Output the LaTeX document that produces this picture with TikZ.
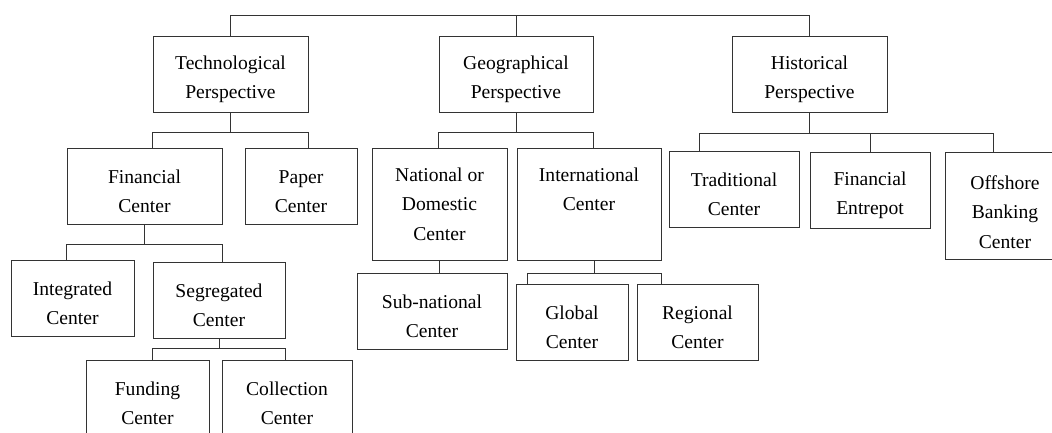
\documentclass[tikz,border=0pt]{standalone}
\usepackage{fontspec}
\setmainfont{Liberation Serif}
\usepackage{tikz}
\tikzset{
	chartbox/.style={draw=black!80, line width=0.9pt, inner sep=0pt, align=center, font=\fontsize{19.6}{29.5}\selectfont,
		execute at begin node={\rule{0pt}{54pt}}},
	link/.style={draw=black!80, line width=0.9pt}
}

\begin{document}
\begin{tikzpicture}[x=1pt, y=-1pt]
				\useasboundingbox (0,0) rectangle (1052,432);
				
				\node[chartbox, minimum width=155, minimum height=76] (tech) at (230.5,74) {Technological\\Perspective};
				\node[chartbox, minimum width=154, minimum height=76] (geo) at (516,74) {Geographical\\Perspective};
				\node[chartbox, minimum width=155, minimum height=76] (hist) at (809.5,74) {Historical\\Perspective};
				
				\node[chartbox, minimum width=155, minimum height=76] (fin) at (144.5,186) {Financial\\Center};
				\node[chartbox, minimum width=112, minimum height=76] (paper) at (301,186) {Paper\\Center};
				\node[chartbox, minimum width=123, minimum height=76] (integ) at (72.5,298) {Integrated\\Center};
				\node[chartbox, minimum width=132, minimum height=76] (segr) at (219,300) {Segregated\\Center};
				\node[chartbox, minimum width=123, minimum height=76] (fund) at (147.5,398) {Funding\\Center};
				\node[chartbox, minimum width=130, minimum height=76] (coll) at (287,398) {Collection\\Center};
				
				\node[chartbox, minimum width=135, minimum height=112] (natl) at (439.5,204) {National or\\Domestic\\Center};
				\node[chartbox, minimum width=144, minimum height=112] (intl) at (589,204) {International\\Center\\~};
				\node[chartbox, minimum width=150, minimum height=76] (sub) at (432,311) {Sub-national\\Center};
				\node[chartbox, minimum width=112, minimum height=76] (global) at (572,322) {Global\\Center};
				\node[chartbox, minimum width=121, minimum height=76] (region) at (697.5,322) {Regional\\Center};
				
				\node[chartbox, minimum width=130, minimum height=76] (trad) at (734,189) {Traditional\\Center};
				\node[chartbox, minimum width=120, minimum height=76] (entre) at (870,190) {Financial\\Entrepot};
				\node[chartbox, execute at begin node={\rule{0pt}{86pt}}, minimum width=120, minimum height=107] (off) at (1005,205.5) {Offshore\\Banking\\Center};
				
				\coordinate (topbus) at (0,15);
				\draw[link] (tech.north) -- (tech.north |- topbus) -- (hist.north |- topbus) -- (hist.north);
				\draw[link] (geo.north) -- (geo.north |- topbus);
				
				\coordinate (techbus) at (0,132);
				\draw[link] (tech.south) -- (tech.south |- techbus);
				\draw[link] (tech.west |- fin.north) -- (tech.west |- techbus) -- (tech.east |- techbus) -- (tech.east |- paper.north);
				
				\coordinate (finbus) at (0,244);
				\draw[link] (fin.south) -- (fin.south |- finbus);
				\draw[link] (fin.west |- integ.north) -- (fin.west |- finbus) -- (fin.east |- finbus) -- (fin.east |- segr.north);
				
				\coordinate (segrbus) at (0,348);
				\draw[link] (segr.south) -- (segr.south |- segrbus);
				\draw[link] (segr.west |- fund.north) -- (segr.west |- segrbus) -- (segr.east |- segrbus) -- (segr.east |- coll.north);
				
				\coordinate (geobus) at (0,132);
				\draw[link] (geo.south) -- (geo.south |- geobus);
				\draw[link] (geo.west |- natl.north) -- (geo.west |- geobus) -- (geo.east |- geobus) -- (geo.east |- intl.north);
				
				\draw[link] (natl.south) -- (natl.south |- sub.north);
				
				\coordinate (intlbusL) at (527,273);
				\coordinate (intlbusR) at (661,273);
				\draw[link] ([xshift=5pt]intl.south) -- ([xshift=5pt]intl.south |- intlbusL);
				\draw[link] (intlbusL |- global.north) -- (intlbusL) -- (intlbusR) -- (intlbusR |- region.north);
				
				\coordinate (histbusL) at (699,133);
				\coordinate (histbusR) at (993,133);
				\draw[link] (hist.south) -- (hist.south |- histbusL);
				\draw[link] (histbusL |- trad.north) -- (histbusL) -- (histbusR) -- (histbusR |- off.north);
				\draw[link] (entre.north) -- (entre.north |- histbusL);
\end{tikzpicture}
\end{document}
